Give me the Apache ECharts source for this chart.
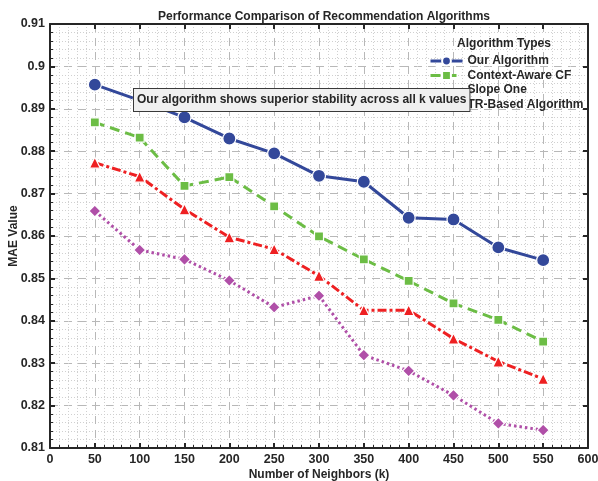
<!DOCTYPE html>
<html>
<head>
<meta charset="utf-8">
<script src="https://cdn.jsdelivr.net/npm/echarts@6/dist/echarts.min.js"></script>
<style>
  html, body { margin: 0; padding: 0; background: #fff; }
  #chart { width: 598px; height: 481px; }
</style>
</head>
<body>
<div id="chart"></div>
<script>
// Neighbourhood sizes (k) and MAE per algorithm
const kValues = [50, 100, 150, 200, 250, 300, 350, 400, 450, 500, 550];
const ourAlgorithm = [0.8957, 0.8920, 0.8880, 0.8830, 0.8795, 0.8742, 0.8728, 0.8643, 0.8639, 0.8573, 0.8543];
const contextAwareCF = [0.8868, 0.8832, 0.8718, 0.8739, 0.8670, 0.8599, 0.8545, 0.8494, 0.8441, 0.8402, 0.8351];
const slopeOne = [0.8773, 0.8740, 0.8663, 0.8597, 0.8569, 0.8506, 0.8425, 0.8425, 0.8358, 0.8304, 0.8263];
const trBased = [0.8659, 0.8567, 0.8545, 0.8495, 0.8432, 0.8459, 0.8319, 0.8282, 0.8224, 0.8158, 0.8142];
const seriesNames = ['Our Algorithm', 'Context-Aware CF', 'Slope One', 'TR-Based Algorithm'];

const FONT = '"Liberation Sans", Arial, Helvetica, sans-serif';
const INK = '#262626';

const chart = echarts.init(document.getElementById('chart'), null, { renderer: 'canvas' });

function pairs(values) {
  return kValues.map((k, i) => [k, values[i]]);
}

function lineSeries(name, values, color, dash, symbol, size) {
  return {
    name: name,
    type: 'line',
    data: pairs(values),
    symbol: symbol,
    symbolSize: size,
    showAllSymbol: true,
    lineStyle: { color: color, width: 3, type: dash },
    itemStyle: { color: color, borderColor: '#fff', borderWidth: 1.2 },
    emphasis: { disabled: true },
    z: 3
  };
}

const yLabel = v => String(parseFloat(v.toFixed(2)));

const option = {
  animation: false,
  backgroundColor: '#fff',
  textStyle: { fontFamily: FONT },
  title: [
    {
      text: 'Performance Comparison of Recommendation Algorithms',
      left: 319, top: 6, textAlign: 'center',
      textStyle: { fontFamily: FONT, fontSize: 12, fontWeight: 'bold', color: INK }
    },
    {
      text: 'Algorithm Types',
      left: 499, top: 33, textAlign: 'center',
      textStyle: { fontFamily: FONT, fontSize: 12, fontWeight: 'bold', color: INK }
    }
  ],
  legend: {
    orient: 'vertical',
    left: 424, top: 50,
    itemWidth: 32, itemHeight: 11,
    itemGap: 2.5,
    data: seriesNames.map(n => ({ name: n, lineStyle: { width: 3 } })),
    textStyle: { fontFamily: FONT, fontSize: 12, fontWeight: 'bold', color: INK },
    selectedMode: false
  },
  grid: { left: 50, right: 10, top: 24, bottom: 33, show: false, containLabel: false, outerBoundsMode: 'none' },
  xAxis: [
    {
      type: 'value', min: 0, max: 600, interval: 50,
      name: 'Number of Neighbors (k)', nameLocation: 'middle', nameGap: 27, nameMoveOverlap: false,
      nameTextStyle: { fontFamily: FONT, fontSize: 12, fontWeight: 'bold', color: INK, verticalAlign: 'middle' },
      axisLine: { onZero: false, lineStyle: { color: INK, width: 2 } },
      axisTick: { inside: true, length: 5, lineStyle: { color: INK, width: 2 } },
      axisLabel: { fontFamily: FONT, fontSize: 12.5, fontWeight: 'bold', color: INK, margin: 5 },
      splitLine: { show: true, lineStyle: { color: '#b8b8b8', width: 1, type: [8, 6] } },
      minorTick: { show: true, splitNumber: 5 },
      minorSplitLine: { show: true, lineStyle: { color: '#d0d0d0', width: 1, type: [1, 2] } }
    },
    {
      type: 'value', min: 0, max: 600, interval: 50, position: 'top',
      axisLine: { onZero: false, lineStyle: { color: INK, width: 2 } },
      axisTick: { inside: true, length: 5, lineStyle: { color: INK, width: 2 } },
      axisLabel: { show: false },
      splitLine: { show: false }
    }
  ],
  yAxis: [
    {
      type: 'value', min: 0.81, max: 0.91, interval: 0.01,
      name: 'MAE Value', nameLocation: 'middle', nameGap: 36, nameRotate: 90, nameMoveOverlap: false,
      nameTextStyle: { fontFamily: FONT, fontSize: 12, fontWeight: 'bold', color: INK, verticalAlign: 'middle' },
      axisLine: { show: true, onZero: false, lineStyle: { color: INK, width: 2 } },
      axisTick: { show: true, inside: true, length: 5, lineStyle: { color: INK, width: 2 } },
      axisLabel: { fontFamily: FONT, fontSize: 12.5, fontWeight: 'bold', color: INK, margin: 5, formatter: yLabel },
      splitLine: { show: true, lineStyle: { color: '#b8b8b8', width: 1, type: [8, 6] } },
      minorTick: { show: true, splitNumber: 5 },
      minorSplitLine: { show: true, lineStyle: { color: '#d0d0d0', width: 1, type: [1, 2] } }
    },
    {
      type: 'value', min: 0.81, max: 0.91, interval: 0.01, position: 'right',
      axisLine: { show: true, onZero: false, lineStyle: { color: INK, width: 2 } },
      axisTick: { show: true, inside: true, length: 5, lineStyle: { color: INK, width: 2 } },
      axisLabel: { show: false },
      splitLine: { show: false }
    }
  ],
  series: [
    lineSeries(seriesNames[0], ourAlgorithm, '#33489a', 'solid', 'circle', 13),
    lineSeries(seriesNames[1], contextAwareCF, '#6cbd45', [10, 6], 'rect', 9),
    lineSeries(seriesNames[2], slopeOne, '#ee2022', [9, 3, 3, 3], 'triangle', 11),
    lineSeries(seriesNames[3], trBased, '#b04fa8', [2.5, 3], 'diamond', 12)
  ],
  graphic: [
    {
      type: 'text',
      left: 133, top: 88,
      z: 100,
      style: {
        text: 'Our algorithm shows superior stability across all k values',
        font: 'bold 12px ' + FONT,
        fill: INK,
        backgroundColor: '#f0f0f0',
        borderColor: '#3a3a3a',
        borderWidth: 1,
        padding: [5, 3, 5, 3]
      }
    }
  ]
};

chart.setOption(option);
</script>
</body>
</html>
